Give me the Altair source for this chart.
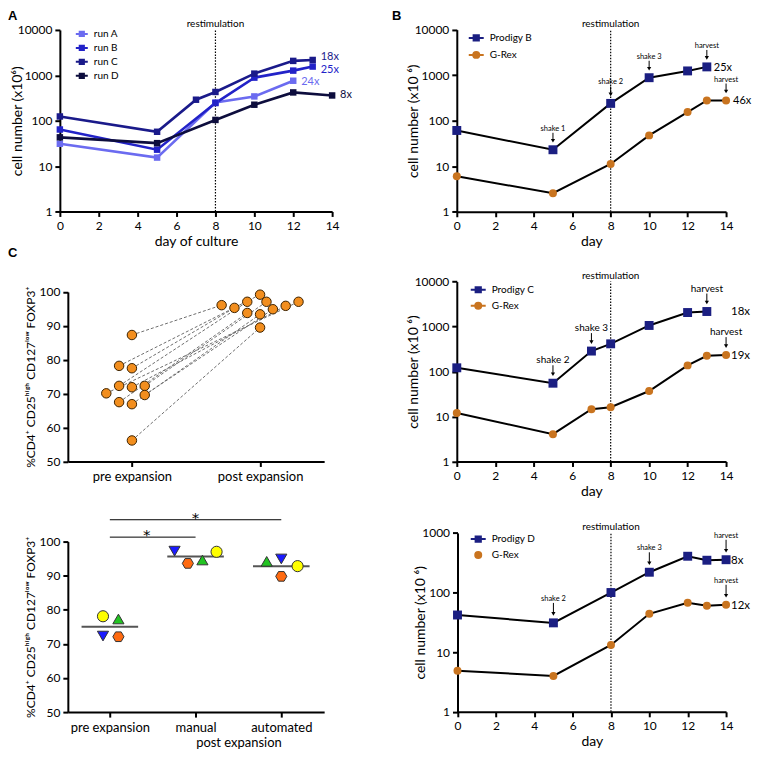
import json
import altair as alt
import pandas as pd

FONT = "Lato"
W, H = 746, 748

# ---------------- data ----------------
# Panel A: four automated runs
a_series = ["run A", "run B", "run C", "run D"]
a_colors = ["#6b6bf0", "#2222c8", "#1a1a8a", "#0d0d3d"]
runA_day = [0, 5, 8, 10, 12]
runA_cells = [31, 15.4, 252, 343, 760]
runB_day = [0, 5, 8, 10, 12, 13]
runB_cells = [64, 23, 245, 890, 1270, 1560]
runC_day = [0, 5, 7, 8, 10, 12, 13]
runC_cells = [124, 57, 290, 430, 1090, 2080, 2180]
runD_day = [0, 5, 8, 10, 12, 14]
runD_cells = [43, 32, 104, 225, 420, 360]
a_folds = ["24x", "25x", "18x", "8x"]

prodigy_color = "#1b1f82"
grex_color = "#c9741f"
restim_day = 8

# Panel B
b_series = ["Prodigy B", "G-Rex"]
prodB_day = [0, 5, 8, 10, 12, 13]
prodB_cells = [61, 23, 240, 880, 1240, 1520]
grexB_day = [0, 5, 8, 10, 12, 13, 14]
grexB_cells = [6.0, 2.55, 11.2, 47.6, 155, 278, 278]
b_folds = ["25x", "46x"]
b_notes = ["shake 1", "shake 2", "shake 3", "harvest", "harvest"]
b_note_day = [5, 8, 10, 13, 14]
b_note_series = ["Prodigy B", "Prodigy B", "Prodigy B", "Prodigy B", "G-Rex"]

# Panel C (right, middle)
c_series = ["Prodigy C", "G-Rex"]
prodC_day = [0, 5, 7, 8, 10, 12, 13]
prodC_cells = [121, 55, 285, 413, 1057, 2050, 2160]
grexC_day = [0, 5, 7, 8, 10, 12, 13, 14]
grexC_cells = [12.0, 4.05, 14.5, 16.1, 36.9, 137, 224, 232]
c_folds = ["18x", "19x"]
c_notes = ["shake 2", "shake 3", "harvest", "harvest"]
c_note_day = [5, 7, 13, 14]
c_note_series = ["Prodigy C", "Prodigy C", "Prodigy C", "G-Rex"]

# Panel D (right, bottom)
d_series = ["Prodigy D", "G-Rex"]
prodD_day = [0, 5, 8, 10, 12, 13, 14]
prodD_cells = [42, 31, 100, 219, 406, 348, 355]
grexD_day = [0, 5, 8, 10, 12, 13, 14]
grexD_cells = [4.9, 4.0, 13.2, 44, 67.5, 60, 62.5]
d_folds = ["8x", "12x"]
d_notes = ["shake 2", "shake 3", "harvest", "harvest"]
d_note_day = [5, 10, 14, 14]
d_note_series = ["Prodigy D", "Prodigy D", "Prodigy D", "G-Rex"]

# Panel C top: paired purity
ct_groups = ["pre expansion", "post expansion"]
ct_pre = [87.3, 78.2, 77.5, 72.3, 71.9, 72.3, 70.1, 69.6, 67.5, 66.9, 56.2]
ct_pre_jitter = [0, -0.1, 0, -0.1, 0, 0.1, -0.2, 0.1, -0.1, 0, 0]
ct_post = [96.1, 99.2, 95.3, 97.1, 95.9, 97.1, 97.1, 94.9, 93.8, 93.4, 89.5]
ct_post_jitter = [-0.3, 0, -0.2, -0.1, 0.2, 0.05, 0.3, 0.1, -0.1, 0, 0]

# Panel C bottom: manual vs automated
cb_groups = ["pre expansion", "manual", "automated"]
cb_donors = ["donor 1", "donor 2", "donor 3", "donor 4"]
cb_donor_colors = ["#ffff00", "#22c422", "#1a1aff", "#ff6a10"]
cb_pre = [78.1, 77.3, 72.3, 72.1]
cb_pre_jitter = [-0.08, 0.1, -0.08, 0.1]
cb_manual = [97.0, 94.6, 97.2, 93.6]
cb_manual_jitter = [0.245, 0.08, -0.245, -0.09]
cb_auto = [92.8, 94.2, 94.9, 89.8]
cb_auto_jitter = [0.19, -0.17, 0, 0]
cb_means = [75.0, 95.6, 92.8]
cb_sig_from = [0, 0]
cb_sig_to = [1, 2]
cb_sig_level = [101.3, 106.4]
cb_sig_text = ["*", "*"]

# ---------------- layout (chart pixels) ----------------
P_A = {"x": [52, 325], "y": [203, 21]}
P_B = {"x": [450, 720], "y": [203.3, 20.7]}
P_M = {"x": [450, 720], "y": [453.7, 273.3]}
P_D = {"x": [450.7, 720], "y": [704.7, 525.3]}
P_CT = {"x": [60, 317], "y": [453.7, 283.7]}
P_CB = {"x": [60, 317], "y": [705, 534]}
A_FOLD_DY = [1, 3, -3, 0]   # label nudges so the end labels do not collide

LINE_SQ = "M-1,0H1M-0.35,-0.35H0.35V0.35H-0.35Z"
LINE_CI = "M-1,0H1M0.4,0A0.4,0.4 0 1,1 -0.4,0A0.4,0.4 0 1,1 0.4,0Z"
CIRC = "M0.4,0A0.4,0.4 0 1,1 -0.4,0A0.4,0.4 0 1,1 0.4,0Z"
HEX = "M-1,0L-0.5,-0.866L0.5,-0.866L1,0L0.5,0.866L-0.5,0.866Z"
CELL_TITLE_A = "cell number (x10\u2076)"
CELL_TITLE = "cell number (x10 \u2076)"
PCT_TITLE = "%CD4\u207a CD25\u02b0\u2071\u1d4d\u02b0 CD127\u02e1\u1d52\u02b7 FOXP3\u207a"


def make_axis(orient, offset, values, title, **kw):
    d = dict(orient=orient, offset=offset, values=values, title=title, grid=False,
             domainColor="black", domainWidth=2, tickColor="black", tickWidth=2,
             tickSize=5, labelFont=FONT, labelFontSize=12, labelColor="black",
             labelPadding=3, labelOverlap=False, labelFlush=False, titleFont=FONT,
             titleFontSize=14, titleFontWeight="normal", titleColor="black",
             titlePadding=2)
    d.update(kw)
    return alt.Axis(**d)


def growth(p, names, days, cells, colors, shapes, sizes, colored_lines, lw,
           ydom, yvals, ytitle, xtitle, leg_paths, leg, folds, fold_end, fold_fs, fold_dx,
           notes, note_days, note_series, note_fs, note_gap, note_len, ytitle_pad, fold_dys=None):
    xs = alt.Scale(domain=[0, 14], range=p["x"], nice=False, zero=False)
    ys = alt.Scale(type="log", domain=ydom, range=p["y"], nice=False)
    rows = []
    for n, d, c in zip(names, days, cells):
        for di, ci in zip(d, c):
            rows.append({"series": n, "day": di, "cells": ci})
    df = pd.DataFrame(rows)
    X0 = alt.X("day:Q", scale=xs, axis=None)
    Y0 = alt.Y("cells:Q", scale=ys, axis=None)
    Xa = alt.X("day:Q", scale=xs, axis=make_axis("bottom", p["y"][0] - H, list(range(0, 15, 2)),
                                                 xtitle, labelPadding=4, titlePadding=3))
    Ya = alt.Y("cells:Q", scale=ys, axis=make_axis("left", -p["x"][0], yvals, ytitle,
                                                   format="d", titlePadding=ytitle_pad))
    cscale = alt.Scale(domain=names, range=colors)
    layers = []
    rdf = pd.DataFrame({"day": [restim_day], "lo": [ydom[0]], "hi": [ydom[1]],
                        "label": ["restimulation"]})
    layers.append(alt.Chart(rdf).mark_rule(color="black", strokeDash=[1.5, 1.5], strokeWidth=1.2)
                  .encode(x=alt.X("day:Q", scale=xs, axis=None),
                          y=alt.Y("lo:Q", scale=ys, axis=None), y2="hi:Q"))
    layers.append(alt.Chart(rdf).mark_text(font=FONT, fontSize=10, baseline="alphabetic", dy=-3,
                                           color="black")
                  .encode(x=alt.X("day:Q", scale=xs, axis=None),
                          y=alt.Y("hi:Q", scale=ys, axis=None), text="label:N"))
    if colored_lines:
        line = alt.Chart(df).mark_line(strokeWidth=lw).encode(
            x=Xa, y=Ya, color=alt.Color("series:N", scale=cscale, legend=None))
    else:
        line = alt.Chart(df).mark_line(strokeWidth=lw, color="black").encode(
            x=Xa, y=Ya, detail="series:N")
    layers.append(line)
    layers.append(alt.Chart(df).mark_point(filled=True, opacity=1).encode(
        x=X0, y=Y0,
        color=alt.Color("series:N", scale=cscale, legend=None),
        shape=alt.Shape("series:N", scale=alt.Scale(domain=names, range=shapes), legend=None),
        size=alt.Size("series:N", scale=alt.Scale(domain=names, range=sizes), legend=None)))
    # legend carrier (draws nothing)
    lg = alt.Legend(title=None, **leg)
    layers.append(alt.Chart(df).transform_filter("false").mark_point(filled=True, strokeWidth=2)
                  .encode(x=X0, y=Y0,
                          fill=alt.Fill("series:N", scale=cscale, legend=lg),
                          stroke=alt.Stroke("series:N", scale=cscale, legend=lg),
                          shape=alt.Shape("series:N", scale=alt.Scale(domain=names, range=leg_paths),
                                          legend=lg)))
    # fold-expansion labels
    if fold_dys is None:
        fold_dys = [1] * len(names)
    for n, d, c, f, fdy in zip(names, days, cells, folds, fold_dys):
        fdf = pd.DataFrame([{"series": n, "day": 14 if fold_end else d[-1], "cells": c[-1],
                             "fold": f}])
        if colored_lines:
            ftext = alt.Chart(fdf).mark_text(font=FONT, fontSize=fold_fs, align="left", dx=fold_dx,
                                             dy=fdy).encode(
                x=X0, y=Y0, text="fold:N",
                color=alt.Color("series:N", scale=cscale, legend=None))
        else:
            ftext = alt.Chart(fdf).mark_text(font=FONT, fontSize=fold_fs, align="left", dx=fold_dx,
                                             dy=fdy, color="black").encode(x=X0, y=Y0, text="fold:N")
        layers.append(ftext)
    # annotations with arrows
    if notes:
        nrows = []
        for lab, dd, s in zip(notes, note_days, note_series):
            i = names.index(s)
            nrows.append({"label": lab, "day": dd, "cells": cells[i][days[i].index(dd)]})
        ndf = pd.DataFrame(nrows)
        layers.append(alt.Chart(ndf).mark_rule(color="black", strokeWidth=1,
                                               yOffset=-(note_gap + note_len), y2Offset=-(note_gap + 3))
                      .encode(x=X0, y=Y0, y2="cells:Q"))
        layers.append(alt.Chart(ndf).mark_point(shape="triangle-down", filled=True, opacity=1,
                                                color="black", size=18, yOffset=-(note_gap + 2))
                      .encode(x=X0, y=Y0))
        layers.append(alt.Chart(ndf).mark_text(font=FONT, fontSize=note_fs, baseline="alphabetic",
                                               dy=-(note_gap + note_len + 2), color="black")
                      .encode(x=X0, y=Y0, text="label:N"))
    return layers


def leg_cfg(x, y, fs, size, rowpad):
    return dict(orient="none", legendX=x, legendY=y, labelFont=FONT, labelFontSize=fs,
                labelColor="black", symbolSize=size, rowPadding=rowpad, padding=0,
                labelOffset=5, symbolOpacity=1, symbolStrokeWidth=2)


layers = []
layers += growth(P_A, a_series, [runA_day, runB_day, runC_day, runD_day],
                 [runA_cells, runB_cells, runC_cells, runD_cells], a_colors,
                 ["square"] * 4, [42] * 4, True, 2.6, [1, 10000], [1, 10, 100, 1000, 10000],
                 CELL_TITLE_A, "day of culture", [LINE_SQ] * 4, leg_cfg(67, 18, 10, 144, 0),
                 a_folds, False, 11, 8, [], [], [], 8, 8, 10, -7, fold_dys=A_FOLD_DY)
layers += growth(P_B, b_series, [prodB_day, grexB_day], [prodB_cells, grexB_cells],
                 [prodigy_color, grex_color], ["square", "circle"], [80, 64], False, 2,
                 [1, 10000], [1, 10, 100, 1000, 10000], CELL_TITLE, "day",
                 [LINE_SQ, LINE_CI], leg_cfg(461, 20.5, 10, 225, 1), b_folds, False, 11, 7,
                 b_notes, b_note_day, b_note_series, 7.5, 7, 10, -6)
layers += growth(P_M, c_series, [prodC_day, grexC_day], [prodC_cells, grexC_cells],
                 [prodigy_color, grex_color], ["square", "circle"], [80, 64], False, 2,
                 [1, 10000], [1, 10, 100, 1000, 10000], CELL_TITLE, "day",
                 [LINE_SQ, LINE_CI], leg_cfg(463, 273, 10, 225, 0), c_folds, True, 11.5, 5,
                 c_notes, c_note_day, c_note_series, 10, 7, 11, -6)
layers += growth(P_D, d_series, [prodD_day, grexD_day], [prodD_cells, grexD_cells],
                 [prodigy_color, grex_color], ["square", "circle"], [80, 64], False, 2,
                 [1, 1000], [1, 10, 100, 1000], CELL_TITLE, "day",
                 [LINE_SQ, CIRC], leg_cfg(463, 523, 10, 225, 0), d_folds, True, 11.5, 5,
                 d_notes, d_note_day, d_note_series, 7.5, 7, 13, -6)

# ---- C top ----
xs_ct = alt.Scale(domain=[-0.5, 1.5], range=P_CT["x"], nice=False, zero=False)
ys_ct = alt.Scale(domain=[50, 100], range=P_CT["y"], nice=False, zero=False)
pairs = pd.DataFrame({"pre_x": [0 + j for j in ct_pre_jitter], "pre": ct_pre,
                      "post_x": [1 + j for j in ct_post_jitter], "post": ct_post})
ct_pts = pd.DataFrame({"x": list(pairs["pre_x"]) + list(pairs["post_x"]), "v": ct_pre + ct_post})
layers.append(alt.Chart(pairs).mark_rule(color="#6e6e6e", strokeDash=[3, 2], strokeWidth=1).encode(
    x=alt.X("pre_x:Q", scale=xs_ct,
            axis=make_axis("bottom", P_CT["y"][0] - H, [0, 1], None,
                           labelExpr=json.dumps(ct_groups) + "[datum.value]",
                           labelFontSize=13, labelPadding=4)),
    x2="post_x:Q",
    y=alt.Y("pre:Q", scale=ys_ct,
            axis=make_axis("left", -P_CT["x"][0], list(range(50, 101, 10)), PCT_TITLE,
                           titleFontSize=12, titlePadding=2)),
    y2="post:Q"))
layers.append(alt.Chart(ct_pts).mark_point(filled=True, opacity=1, size=90, shape="circle",
                                           color="#f28e1e", stroke="#3c2200", strokeWidth=1)
              .encode(x=alt.X("x:Q", scale=xs_ct, axis=None), y=alt.Y("v:Q", scale=ys_ct, axis=None)))

# ---- C bottom ----
xs_cb = alt.Scale(domain=[-0.49, 2.5], range=P_CB["x"], nice=False, zero=False)
ys_cb = alt.Scale(domain=[50, 100], range=P_CB["y"], nice=False, zero=False)
cb_rows = []
for gi, (vals, jit) in enumerate([(cb_pre, cb_pre_jitter), (cb_manual, cb_manual_jitter),
                                  (cb_auto, cb_auto_jitter)]):
    for dn, v, j in zip(cb_donors, vals, jit):
        cb_rows.append({"donor": dn, "x": gi + j, "v": v})
cb_df = pd.DataFrame(cb_rows)
mean_df = pd.DataFrame({"x": [i - 0.33 for i in range(3)], "x2": [i + 0.33 for i in range(3)],
                        "m": cb_means})
sig_df = pd.DataFrame({"x": cb_sig_from, "x2": cb_sig_to, "lvl": cb_sig_level, "t": cb_sig_text,
                       "mid": [0.43 * (b - a) + a if b - a == 1 else (a + b) / 2
                               for a, b in zip(cb_sig_from, cb_sig_to)]})
post_mid = (1 + 2) / 2
post_px = P_CB["x"][0] + (post_mid + 0.49) / 2.99 * (P_CB["x"][1] - P_CB["x"][0])
layers.append(alt.Chart(mean_df).mark_rule(color="#555555", strokeWidth=2).encode(
    x=alt.X("x:Q", scale=xs_cb,
            axis=make_axis("bottom", P_CB["y"][0] - H, [0, 1, 2], "post expansion",
                           labelExpr=json.dumps(cb_groups) + "[datum.value]",
                           labelFontSize=13, labelPadding=4, titleFontSize=13,
                           titleX=post_px, titlePadding=2)),
    x2="x2:Q",
    y=alt.Y("m:Q", scale=ys_cb,
            axis=make_axis("left", -P_CB["x"][0], list(range(50, 101, 10)), PCT_TITLE,
                           titleFontSize=12, titlePadding=2))))
layers.append(alt.Chart(cb_df).mark_point(filled=True, opacity=1, size=125, stroke="#333333",
                                          strokeWidth=1).encode(
    x=alt.X("x:Q", scale=xs_cb, axis=None), y=alt.Y("v:Q", scale=ys_cb, axis=None),
    fill=alt.Fill("donor:N", scale=alt.Scale(domain=cb_donors, range=cb_donor_colors), legend=None),
    shape=alt.Shape("donor:N", scale=alt.Scale(domain=cb_donors,
                                               range=["circle", "triangle-up", "triangle-down", HEX]),
                    legend=None)))
layers.append(alt.Chart(sig_df).mark_rule(color="black", strokeWidth=1).encode(
    x=alt.X("x:Q", scale=xs_cb, axis=None), x2="x2:Q", y=alt.Y("lvl:Q", scale=ys_cb, axis=None)))
layers.append(alt.Chart(sig_df).mark_text(font="DejaVu Sans", fontSize=15, baseline="alphabetic",
                                          dy=3, color="black").encode(
    x=alt.X("mid:Q", scale=xs_cb, axis=None), y=alt.Y("lvl:Q", scale=ys_cb, axis=None), text="t:N"))

# ---- panel letters ----
for letter, lx, ly in [("A", 0, 11), ("B", 385, 11), ("C", 0, 249)]:
    layers.append(alt.Chart(pd.DataFrame({"t": [letter]})).mark_text(
        font="Liberation Sans", fontSize=13, fontWeight="bold", align="left",
        baseline="alphabetic", color="black").encode(x=alt.value(lx), y=alt.value(ly), text="t:N"))

chart = (alt.layer(*layers)
         .resolve_scale(x="independent", y="independent", color="independent",
                        fill="independent", stroke="independent", shape="independent",
                        size="independent")
         .resolve_axis(x="independent", y="independent")
         .resolve_legend(fill="independent", stroke="independent", shape="independent",
                         color="independent", size="independent")
         .properties(width=W, height=H, autosize=alt.AutoSizeParams(type="none"), padding=0)
         .configure_view(stroke=None))

chart.save("out.html", embed_options={"renderer": "svg", "actions": False})
